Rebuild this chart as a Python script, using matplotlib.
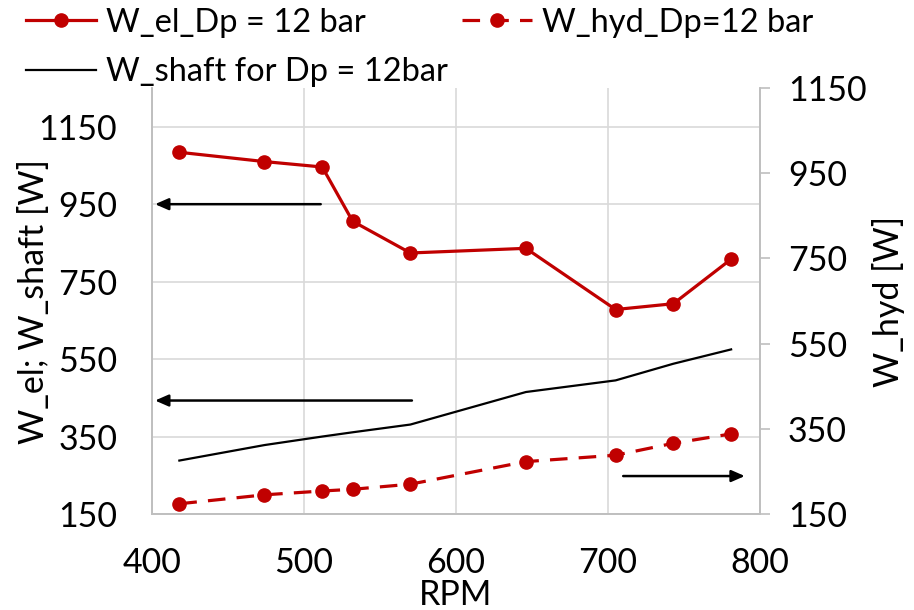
import matplotlib
matplotlib.use("Agg")
import matplotlib.pyplot as plt

# ---- data ----
rpm = [418, 474, 512, 532, 570, 646, 705, 743, 781]
w_el = [1084, 1060, 1046, 906, 824, 836, 678, 693, 808]
w_shaft = [288, 328, 350, 361, 381, 465, 495, 538, 575]
w_hyd = [174, 195, 204, 208, 220, 273, 288, 316, 338]

left_ticks = [150, 350, 550, 750, 950, 1150]
right_ticks = [150, 350, 550, 750, 950, 1150]
x_ticks = [400, 500, 600, 700, 800]

# arrows: (x_start, x_end, y_left_value)
arrows = [(511, 402, 950), (571, 402, 443), (710, 790, 248)]

plt.rcParams['font.family'] = ['Lato', 'DejaVu Sans']
FS = 24.5
RED = '#c00000'
GRID = '#d9d9d9'
SPINE = '#bfbfbf'

fig = plt.figure(figsize=(9.14, 6.10), dpi=100)
ax = fig.add_axes([152/914, 1-514/610, (760-152)/914, (514-88)/610])
ax2 = ax.twinx()

l_el, = ax.plot(rpm, w_el, color=RED, lw=2.3, marker='o', ms=9.5, label='W_el_Dp = 12 bar')
l_sh, = ax.plot(rpm, w_shaft, color='black', lw=1.6, label='W_shaft for Dp = 12bar')
l_hy, = ax2.plot(rpm, w_hyd, color=RED, lw=2.3, marker='o', ms=9.5, dashes=(5.5, 3.5),
                 label='W_hyd_Dp=12 bar')

ax.set_xlim(400, 800)
ax.set_ylim(150, 1250)
ax2.set_ylim(150, 1150)
ax.set_xticks(x_ticks)
ax.set_yticks(left_ticks)
ax2.set_yticks(right_ticks)

ax.grid(True, color=GRID, lw=1.2)
ax.set_axisbelow(True)

for a in (ax, ax2):
    a.spines['top'].set_visible(False)
    for s in ('left', 'right', 'bottom'):
        a.spines[s].set_color(SPINE)
        a.spines[s].set_linewidth(1.2)

ax.tick_params(axis='y', length=0, pad=25, labelsize=FS)
ax.tick_params(axis='x', length=0, pad=24, labelsize=FS)
ax2.tick_params(axis='y', length=7, width=1.2, color=SPINE, pad=13, labelsize=FS)

ax.set_xlabel('RPM', fontsize=FS, labelpad=0)
ax.set_ylabel('W_el; W_shaft [W]', fontsize=FS)
ax.yaxis.set_label_coords(-0.168, 0.5)
ax2.set_ylabel('W_hyd [W]', fontsize=FS, labelpad=4)

for x0, x1, yv in arrows:
    ax.annotate('', xy=(x1, yv), xytext=(x0, yv),
                arrowprops=dict(arrowstyle='-|>,head_length=0.8,head_width=0.35',
                                color='black', lw=1.8, shrinkA=0, shrinkB=0))

fig.legend(handles=[l_el, l_sh, l_hy], ncol=2, loc='upper left',
           bbox_to_anchor=(24/914, 0.99), frameon=False, fontsize=23.5,
           handlelength=2.15, handletextpad=0.3, columnspacing=0.45,
           labelspacing=0.6, borderaxespad=0, borderpad=0.05)

fig.savefig('out.png', dpi=100)
